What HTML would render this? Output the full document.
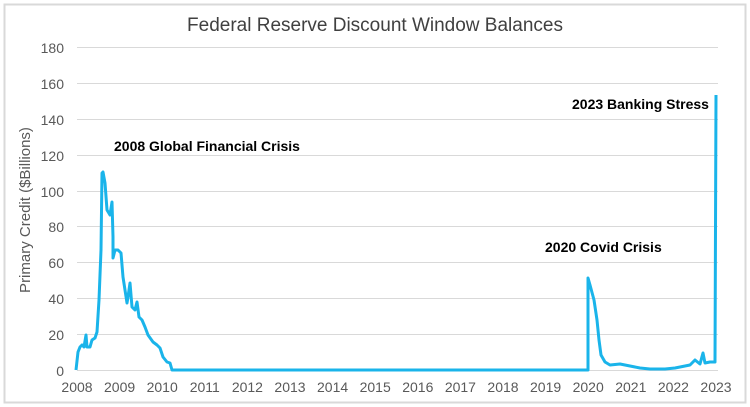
<!DOCTYPE html>
<html><head><style>
html,body{margin:0;padding:0;background:#fff;}
svg{display:block;font-family:"Liberation Sans",Arial,sans-serif;}
</style></head><body>
<svg width="750" height="407" viewBox="0 0 750 407">
<rect x="0" y="0" width="750" height="407" fill="#fff"/>
<rect x="4.5" y="4.5" width="741" height="398" fill="none" stroke="#d9d9d9" stroke-width="2"/>
<text x="375" y="31" text-anchor="middle" font-size="19" fill="#404040">Federal Reserve Discount Window Balances</text>
<g stroke="#d9d9d9" stroke-width="1">
<line x1="77" x2="718" y1="47.5" y2="47.5"/>
<line x1="77" x2="718" y1="83.5" y2="83.5"/>
<line x1="77" x2="718" y1="119.5" y2="119.5"/>
<line x1="77" x2="718" y1="155.5" y2="155.5"/>
<line x1="77" x2="718" y1="191.5" y2="191.5"/>
<line x1="77" x2="718" y1="226.5" y2="226.5"/>
<line x1="77" x2="718" y1="262.5" y2="262.5"/>
<line x1="77" x2="718" y1="298.5" y2="298.5"/>
<line x1="77" x2="718" y1="334.5" y2="334.5"/>
<line x1="77" x2="718" y1="370.5" y2="370.5"/>
</g>
<g font-size="14" fill="#595959" text-anchor="end">
<text x="64" y="53">180</text><text x="64" y="89">160</text><text x="64" y="125">140</text>
<text x="64" y="161">120</text><text x="64" y="197">100</text><text x="64" y="232">80</text>
<text x="64" y="268">60</text><text x="64" y="304">40</text><text x="64" y="340">20</text>
<text x="64" y="376">0</text>
</g>
<g font-size="14" fill="#595959" text-anchor="middle">
<text x="77" y="392">2008</text><text x="119.6" y="392">2009</text><text x="162.2" y="392">2010</text>
<text x="204.8" y="392">2011</text><text x="247.4" y="392">2012</text><text x="290" y="392">2013</text>
<text x="332.6" y="392">2014</text><text x="375.2" y="392">2015</text><text x="417.8" y="392">2016</text>
<text x="460.4" y="392">2017</text><text x="503" y="392">2018</text><text x="545.6" y="392">2019</text>
<text x="588.2" y="392">2020</text><text x="630.8" y="392">2021</text><text x="673.4" y="392">2022</text>
<text x="716" y="392">2023</text>
</g>
<text transform="translate(30,210) rotate(-90)" text-anchor="middle" font-size="15" fill="#595959">Primary Credit ($Billions)</text>
<polyline fill="none" stroke="#1ab4ea" stroke-width="3" stroke-linejoin="round" points="
76,370 78,352 80,347 82,345 84,347 86,335 87,347 90,347 92,340 95,338 97,332 99,300 101,250 102,173 103,172 105,183 107,210 110,215 112,202 113,237 113,258 115,250 118,250 121,253 123,277 125,290 127,303 128,297 130,283 132,307 135,310 137,302 139,317 142,320 145,327 148,335 153,342 157,345 160,348 163,357 167,362 170,363 172,370
588,370 588,278 590,285 594,300 597,320 599,340 601,355 605,362 610,365 620,364 630,366 640,368 650,369 665,369 675,368 685,366 690,365 695,360 700,364 703,353 705,363 710,362 715,362 716,95"/>
<g font-size="14" font-weight="bold" fill="#000">
<text x="114" y="151">2008 Global Financial Crisis</text>
<text x="545" y="252">2020 Covid Crisis</text>
<text x="572" y="109">2023 Banking Stress</text>
</g>
</svg>
</body></html>
